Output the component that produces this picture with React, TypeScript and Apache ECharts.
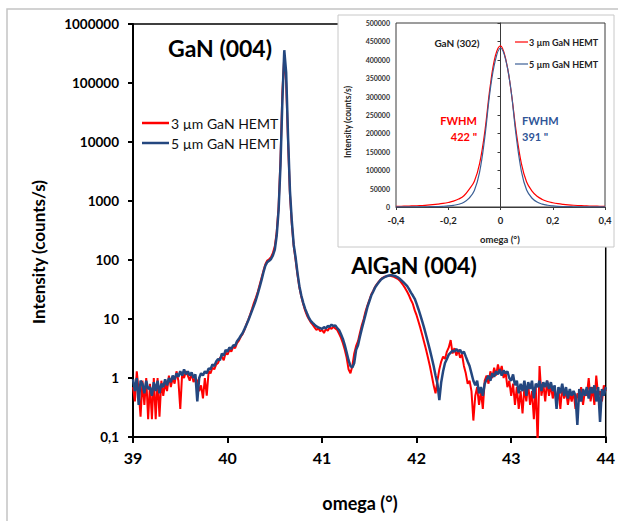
import React, { useEffect, useRef } from "react";
import * as echarts from "echarts";

// Main scan: omega grid 39.00 .. 44.00, step 0.02
const OMEGA_START = 39;
const OMEGA_STEP = 0.02;

const hemt3um = [
  0.7, 0.4, 1.3, 0.6, 0.22, 0.9, 0.35, 1.0, 0.2, 0.8, 0.2, 1.0, 0.2, 1.0, 0.22, 0.9, 0.5, 0.8, 0.6, 1.1, 0.7,
  1.0, 0.8, 1.3, 0.9, 0.3, 1.2, 1.0, 1.3, 1.1, 0.9, 1.2, 0.85, 1.0, 0.9, 0.6, 0.75, 0.45, 1.0, 0.5, 1.3,
  1.2, 1.5, 1.4, 1.7, 1.8, 2.2, 2.3, 2.0, 2.7, 2.5, 3.0, 2.8, 3.4, 3.2, 3.9,
  4.3, 5.0, 5.6, 6.6, 8.2, 9.8, 12, 15, 19, 23, 29, 38, 50, 66, 85, 98, 103, 112, 132, 170, 300, 800,
  5000, 70000, 280000, 100000, 10000, 1300, 400, 170,
  100, 56, 34, 24, 18, 14, 11.5, 10, 8.8, 8.0, 7.2, 6.5, 7.0, 6.2,
  6.6, 5.8, 6.8, 6.3, 7.2, 6.8, 7.4, 6.9, 6.5, 5.6, 4.8, 3.9, 3.0, 2.2, 1.4, 1.2, 1.6, 2.6, 3.5, 4.2,
  5.8, 7.8, 10, 13.5, 17, 21, 26, 30, 35, 39, 43, 47, 50, 52, 53, 54, 54, 53, 52, 50, 48,
  45, 41, 37, 33, 29, 25, 21, 18, 14, 11.5, 9, 7, 5.3, 4.0, 3.0, 2.2, 1.6, 1.1, 0.75, 0.55, 0.9, 1.4,
  1.9, 2.3, 2.1, 2.8, 3.3, 4.4, 2.6, 3.2, 2.4, 3.0, 2.2, 2.5, 1.6, 1.2, 0.8, 0.9, 0.6, 0.19, 0.5, 0.7,
  0.35, 0.6, 0.3, 0.9, 1.1, 0.8, 1.3, 1.0, 1.5, 1.1, 1.7, 1.2, 1.6, 1.0, 1.3, 0.7, 0.9,
  0.5, 0.8, 0.35, 0.7, 0.3, 0.6, 0.25, 0.7, 0.4, 0.8, 0.35, 0.6, 0.2, 0.7, 0.08, 1.6, 0.5, 0.8, 0.4, 0.9,
  0.5, 0.75, 0.45, 0.7, 0.35, 0.65, 0.3, 0.7, 0.45, 0.6, 0.35, 0.55, 0.4, 0.6, 0.3, 0.55, 0.45, 0.7, 0.35, 0.6,
  0.5, 1.0, 0.4, 0.7, 0.35, 1.1, 0.5, 0.6, 0.4, 0.75, 0.6,
];

const hemt5um = [
  0.95, 0.6, 1.0, 0.35, 0.9, 0.8, 0.55, 0.9, 0.65, 0.7, 0.5, 0.85, 0.6, 0.9, 0.55, 0.8, 0.7, 0.95, 0.75, 1.0, 0.85,
  1.1, 0.95, 1.2, 1.05, 1.3, 1.1, 1.4, 1.15, 1.3, 1.1, 1.25, 1.0, 1.15, 0.4, 1.0, 1.2, 1.1, 1.3, 1.2, 1.45,
  1.4, 1.7, 1.6, 1.9, 2.1, 2.0, 2.6, 2.4, 3.0, 2.8, 3.3, 3.1, 3.6, 3.5, 4.2,
  4.6, 5.2, 5.8, 6.8, 8.0, 9.5, 11.5, 14, 17, 21, 27, 35, 46, 62, 80, 92, 97, 104, 120, 150, 260, 700,
  4000, 50000, 360000, 150000, 12000, 1500, 450, 180,
  110, 60, 36, 25, 19, 15, 12.5, 10.5, 9.3, 8.6, 8.0, 7.5, 7.2, 7.0,
  6.8, 7.3, 6.9, 7.6, 7.4, 8.0, 7.6, 7.8, 7.0, 6.5, 5.5, 4.6, 3.6, 2.7, 2.0, 1.6, 1.5, 1.8, 3.0, 3.6,
  5.0, 6.8, 9.0, 12, 16, 20, 25, 29, 34, 38, 42, 46, 49, 51, 53, 54, 55, 55, 54, 53, 51,
  48, 45, 42, 39, 36, 32, 28, 25, 22, 18, 14.5, 11.5, 9, 7, 5.3, 4.0, 3.0, 2.2, 1.6, 1.1, 0.8, 0.42,
  0.85, 1.3, 1.8, 2.1, 2.5, 2.7, 2.9, 2.8, 3.1, 2.8, 3.0, 2.6, 2.8, 2.3, 1.9, 1.6, 1.2, 0.9, 0.75, 0.9,
  0.55, 0.7, 0.5, 0.8, 0.95, 1.1, 0.9, 1.2, 1.05, 1.3, 1.15, 1.4, 1.1, 1.35, 1.2, 1.3, 1.0,
  0.9, 1.15, 0.75, 0.9, 0.55, 0.8, 0.6, 0.9, 0.5, 0.85, 0.65, 0.9, 0.45, 0.8, 0.7, 0.9, 0.6, 0.85, 0.7, 0.9,
  0.65, 0.85, 0.6, 0.75, 0.3, 0.7, 0.55, 0.8, 0.5, 0.7, 0.45, 0.65, 0.5, 0.6, 0.5, 0.16, 0.65, 0.4, 0.65, 0.5,
  0.7, 0.45, 0.7, 0.55, 0.75, 0.4, 0.7, 0.18, 0.65, 0.5, 0.7,
];

// Inset GaN (302) rocking curve: omega -0.40 .. 0.40, step 0.02
const INSET_START = -0.4;
const INSET_STEP = 0.02;
const inset3um = [
  1800, 2100, 2400, 2900, 3400, 4100, 5000, 6200, 7700, 9600, 12200, 15800, 21500, 30500, 48000, 70000, 118000,
  205000, 325000, 410000, 438000, 402000, 318000, 205000, 118000, 68000, 44000, 29000, 20500, 15000, 11500, 9000,
  7200, 5800, 4700, 3900, 3200, 2700, 2300, 2000, 1700,
];
const inset5um = [
  250, 280, 320, 380, 450, 560, 720, 950, 1300, 1900, 2900, 4600, 7600, 13000, 24000, 45000, 95000, 190000,
  315000, 398000, 432000, 400000, 318000, 193000, 97000, 46000, 24500, 13500, 7800, 4700, 3000, 1950, 1350, 980,
  740, 580, 460, 390, 330, 290, 260,
];

const mainTicksX = [39, 40, 41, 42, 43, 44];
const seriesNames = ["3 µm GaN HEMT", "5 µm GaN HEMT"];

const RED = "#ff0000";
const BLUE = "#24477f";
const INSET_BLUE = "#3b5f95";
const FONT = "Lato";

function pairs(start: number, step: number, vals: number[]) {
  return vals.map((v, i) => [+(start + i * step).toFixed(3), v]);
}

export default function App() {
  const ref = useRef<HTMLDivElement>(null);
  useEffect(() => {
    const chart = echarts.init(ref.current!, undefined, { renderer: "svg" });
    const option: any = {
      animation: false,
      backgroundColor: "#fff",
      grid: [
        { left: 133, top: 24, width: 473, height: 413, show: true, borderColor: "#000", borderWidth: 1.5, z: 0 },
        { left: 396, top: 23, width: 209, height: 184, show: true, borderColor: "#3a3a3a", borderWidth: 1, backgroundColor: "#fff", z: 6 },
      ],
      xAxis: [
        {
          gridIndex: 0, type: "value", min: mainTicksX[0], max: mainTicksX[mainTicksX.length - 1], interval: 1,
          axisLine: { lineStyle: { color: "#000", width: 2 } },
          axisTick: { show: true, length: 6, lineStyle: { color: "#000", width: 2 } },
          axisLabel: { fontSize: 16, fontWeight: "bold", color: "#000", margin: 12, fontFamily: FONT },
          splitLine: { show: false },
        },
        {
          gridIndex: 1, type: "value", min: -0.4, max: 0.4, interval: 0.2, z: 6,
          axisLine: { lineStyle: { color: "#3a3a3a", width: 1 } },
          axisTick: { show: true, length: 3, lineStyle: { color: "#3a3a3a" } },
          axisLabel: {
            fontSize: 9.5, fontWeight: "bold", color: "#222", margin: 8, fontFamily: FONT,
            formatter: (v: number) => (Math.abs(v) < 1e-9 ? "0" : v.toFixed(1).replace(".", ",")),
          },
          splitLine: { show: false },
        },
      ],
      yAxis: [
        {
          gridIndex: 0, type: "log", logBase: 10, min: 0.1, max: 1000000,
          axisLine: { lineStyle: { color: "#000", width: 2 } },
          axisTick: { show: true, length: 5, lineStyle: { color: "#000", width: 2 } },
          axisLabel: {
            fontSize: 13.5, fontWeight: "bold", color: "#000", margin: 14, fontFamily: FONT,
            formatter: (v: number) => (v < 0.5 ? "0,1" : String(Math.round(v))),
          },
          splitLine: { show: false },
        },
        {
          gridIndex: 1, type: "value", min: 0, max: 500000, interval: 50000, z: 6,
          axisLine: { lineStyle: { color: "#3a3a3a", width: 1 } },
          axisTick: { show: true, length: 3, lineStyle: { color: "#3a3a3a" } },
          axisLabel: {
            fontSize: 7, fontWeight: "bold", color: "#333", margin: 6, fontFamily: FONT,
            formatter: (v: number) => String(Math.round(v)),
          },
          splitLine: { show: false },
        },
      ],
      series: [
        {
          name: seriesNames[0], type: "line", xAxisIndex: 0, yAxisIndex: 0, showSymbol: false, z: 2,
          lineStyle: { color: RED, width: 2 }, itemStyle: { color: RED },
          data: pairs(OMEGA_START, OMEGA_STEP, hemt3um),
        },
        {
          name: seriesNames[1], type: "line", xAxisIndex: 0, yAxisIndex: 0, showSymbol: false, z: 3,
          lineStyle: { color: BLUE, width: 2.5 }, itemStyle: { color: BLUE },
          data: pairs(OMEGA_START, OMEGA_STEP, hemt5um),
        },
        {
          name: "inset-3", type: "line", xAxisIndex: 1, yAxisIndex: 1, showSymbol: false, z: 7, smooth: 0.4,
          lineStyle: { color: RED, width: 1.2 }, itemStyle: { color: RED },
          data: pairs(INSET_START, INSET_STEP, inset3um),
        },
        {
          name: "inset-5", type: "line", xAxisIndex: 1, yAxisIndex: 1, showSymbol: false, z: 8, smooth: 0.4,
          lineStyle: { color: INSET_BLUE, width: 1.2 }, itemStyle: { color: INSET_BLUE },
          data: pairs(INSET_START, INSET_STEP, inset5um),
        },
      ],
      graphic: [
        { type: "rect", z: -1, shape: { x: 7, y: 9, width: 700, height: 700 }, style: { fill: "none", stroke: "#c4c4c4", lineWidth: 1.5 } },
        { type: "rect", z: 5, shape: { x: 338, y: 15, width: 276, height: 232 }, style: { fill: "#fff", stroke: "#c8c8c8", lineWidth: 1 } },
        // main titles
        { type: "text", z: 20, x: 38, y: 252, rotation: Math.PI / 2, style: { text: "Intensity (counts/s)", fontSize: 17, fontWeight: "bold", fontFamily: FONT, fill: "#000", align: "center", verticalAlign: "middle" } },
        { type: "text", z: 20, x: 360, y: 503, style: { text: "omega (°)", fontSize: 18, fontWeight: "bold", fontFamily: FONT, fill: "#000", align: "center", verticalAlign: "middle" } },
        { type: "text", z: 20, x: 220, y: 48, style: { text: "GaN (004)", fontSize: 23, fontWeight: "bold", fontFamily: FONT, fill: "#000", align: "center", verticalAlign: "middle" } },
        { type: "text", z: 20, x: 414, y: 265, style: { text: "AlGaN (004)", fontSize: 23, fontWeight: "bold", fontFamily: FONT, fill: "#000", align: "center", verticalAlign: "middle" } },
        // main legend
        { type: "line", z: 20, shape: { x1: 142, y1: 123, x2: 169, y2: 123 }, style: { stroke: RED, lineWidth: 2.5 } },
        { type: "text", z: 20, x: 171, y: 123, style: { text: seriesNames[0], fontSize: 14, fontFamily: FONT, fill: "#111", align: "left", verticalAlign: "middle" } },
        { type: "line", z: 20, shape: { x1: 142, y1: 143, x2: 169, y2: 143 }, style: { stroke: BLUE, lineWidth: 2.5 } },
        { type: "text", z: 20, x: 171, y: 143, style: { text: seriesNames[1], fontSize: 14, fontFamily: FONT, fill: "#111", align: "left", verticalAlign: "middle" } },
        // inset texts
        { type: "text", z: 20, x: 348, y: 122, rotation: Math.PI / 2, style: { text: "Intensity (counts/s)", fontSize: 8.5, fontWeight: "bold", fontFamily: FONT, fill: "#222", align: "center", verticalAlign: "middle" } },
        { type: "text", z: 20, x: 500, y: 239, style: { text: "omega (°)", fontSize: 9.5, fontWeight: "bold", fontFamily: FONT, fill: "#222", align: "center", verticalAlign: "middle" } },
        { type: "text", z: 20, x: 457, y: 43, style: { text: "GaN (302)", fontSize: 10, fontWeight: "bold", fontFamily: FONT, fill: "#222", align: "center", verticalAlign: "middle" } },
        { type: "line", z: 20, shape: { x1: 515, y1: 42, x2: 528, y2: 42 }, style: { stroke: RED, lineWidth: 1.2 } },
        { type: "text", z: 20, x: 529, y: 42, style: { text: seriesNames[0], fontSize: 9, fontWeight: "bold", fontFamily: FONT, fill: "#222", align: "left", verticalAlign: "middle" } },
        { type: "line", z: 20, shape: { x1: 515, y1: 64, x2: 528, y2: 64 }, style: { stroke: INSET_BLUE, lineWidth: 1.2 } },
        { type: "text", z: 20, x: 529, y: 64, style: { text: seriesNames[1], fontSize: 9, fontWeight: "bold", fontFamily: FONT, fill: "#222", align: "left", verticalAlign: "middle" } },
        { type: "text", z: 20, x: 477, y: 120, style: { text: "FWHM", fontSize: 11, fontWeight: "bold", fontFamily: FONT, fill: RED, align: "right", verticalAlign: "middle" } },
        { type: "text", z: 20, x: 477, y: 136, style: { text: "422 \"", fontSize: 11, fontWeight: "bold", fontFamily: FONT, fill: RED, align: "right", verticalAlign: "middle" } },
        { type: "text", z: 20, x: 522, y: 120, style: { text: "FWHM", fontSize: 11, fontWeight: "bold", fontFamily: FONT, fill: "#2f5597", align: "left", verticalAlign: "middle" } },
        { type: "text", z: 20, x: 522, y: 136, style: { text: "391 \"", fontSize: 11, fontWeight: "bold", fontFamily: FONT, fill: "#2f5597", align: "left", verticalAlign: "middle" } },
      ],
    };
    chart.setOption(option);
    return () => chart.dispose();
  }, []);
  return (
    <div
      ref={ref}
      style={{ position: "absolute", left: 0, top: 0, width: 618, height: 521 }}
    />
  );
}
